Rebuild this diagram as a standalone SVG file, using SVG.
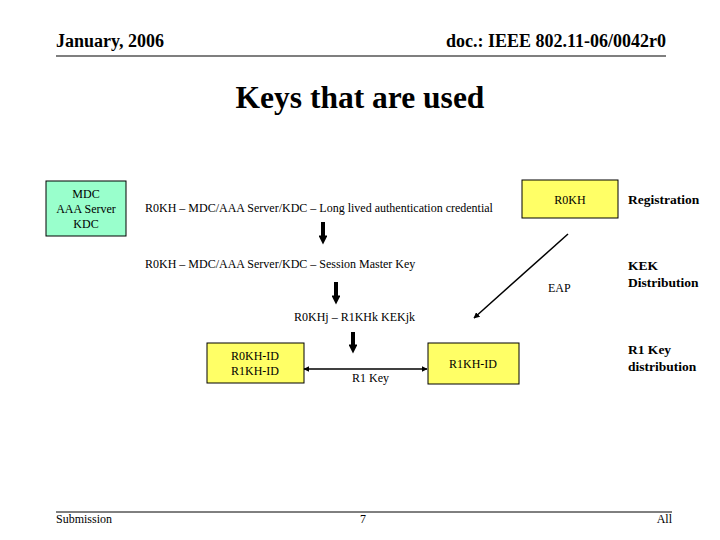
<svg xmlns="http://www.w3.org/2000/svg" width="720" height="540" viewBox="0 0 720 540">
<defs>
<style>
text{font-family:"Liberation Serif","Times New Roman",serif;fill:#000}
.h{font-size:18px;font-weight:bold}
.b{font-size:12px}
.s{font-size:13.5px;font-weight:bold}
.box{stroke:#000;stroke-width:1}
.fat{stroke:#000;stroke-width:4;fill:none}
</style>
<marker id="ah" viewBox="0 0 10 10" refX="5" refY="5" markerWidth="2.5" markerHeight="2.2" orient="auto"><path d="M0,0 L10,5 L0,10 z" fill="#000"/></marker>
<marker id="sa" viewBox="0 0 10 10" refX="9" refY="5" markerWidth="6" markerHeight="6" markerUnits="userSpaceOnUse" orient="auto"><path d="M0,0 L10,5 L0,10 z" fill="#000"/></marker>
<marker id="sb" viewBox="0 0 10 10" refX="1" refY="5" markerWidth="6" markerHeight="6" markerUnits="userSpaceOnUse" orient="auto"><path d="M10,0 L0,5 L10,10 z" fill="#000"/></marker>
</defs>
<rect width="720" height="540" fill="#fff"/>
<g id="header">
<text class="h" x="56" y="47">January, 2006</text>
<text class="h" x="666" y="47" text-anchor="end">doc.: IEEE 802.11-06/0042r0</text>
<line x1="56" y1="56" x2="666" y2="56" stroke="#000" stroke-width="1.2"/>
<text x="360" y="108" text-anchor="middle" font-size="31.5" font-weight="bold">Keys that are used</text>
</g>
<g id="mdc">
<rect class="box" x="46" y="181" width="80" height="55" fill="#99FFCC"/>
<text class="b" x="86" y="198" text-anchor="middle">MDC</text>
<text class="b" x="86" y="213" text-anchor="middle">AAA Server</text>
<text class="b" x="86" y="228" text-anchor="middle">KDC</text>
</g>
<g id="r0kh">
<rect class="box" x="522" y="180" width="96" height="38" fill="#FFFF66"/>
<text class="b" x="570" y="204" text-anchor="middle">R0KH</text>
</g>
<g id="r0kh-r1kh-id">
<rect class="box" x="207" y="343" width="97" height="40" fill="#FFFF66"/>
<text class="b" x="255" y="360" text-anchor="middle">R0KH-ID</text>
<text class="b" x="255" y="375" text-anchor="middle">R1KH-ID</text>
</g>
<g id="r1kh-id">
<rect class="box" x="428" y="343" width="91" height="41" fill="#FFFF66"/>
<text class="b" x="473" y="368" text-anchor="middle">R1KH-ID</text>
</g>
<g id="labels">
<text class="b" x="145" y="212">R0KH – MDC/AAA Server/KDC – Long lived authentication credential</text>
<text class="b" x="145" y="268">R0KH – MDC/AAA Server/KDC – Session Master Key</text>
<text class="b" x="294" y="321">R0KHj – R1KHk KEKjk</text>
<text class="b" x="548" y="292">EAP</text>
<text class="b" x="352" y="382">R1 Key</text>
<text class="s" x="628" y="204">Registration</text>
<text class="s" x="628" y="270">KEK</text>
<text class="s" x="628" y="287">Distribution</text>
<text class="s" x="628" y="354">R1 Key</text>
<text class="s" x="628" y="371">distribution</text>
</g>
<g id="connectors">
<line class="fat" x1="323" y1="222" x2="323" y2="240" marker-end="url(#ah)"/>
<line class="fat" x1="336" y1="282" x2="336" y2="300" marker-end="url(#ah)"/>
<line class="fat" x1="353" y1="332" x2="353" y2="349" marker-end="url(#ah)"/>
<line x1="568" y1="234" x2="474" y2="318" stroke="#000" stroke-width="1.5" marker-end="url(#sa)"/>
<line x1="304" y1="369" x2="427" y2="369" stroke="#000" stroke-width="1.5" marker-start="url(#sb)" marker-end="url(#sa)"/>
</g>
<g id="footer">
<line x1="56" y1="512" x2="672" y2="512" stroke="#000" stroke-width="1"/>
<text class="b" x="56" y="523">Submission</text>
<text class="b" x="363" y="523" text-anchor="middle">7</text>
<text class="b" x="672" y="523" text-anchor="end">All</text>
</g>
</svg>
